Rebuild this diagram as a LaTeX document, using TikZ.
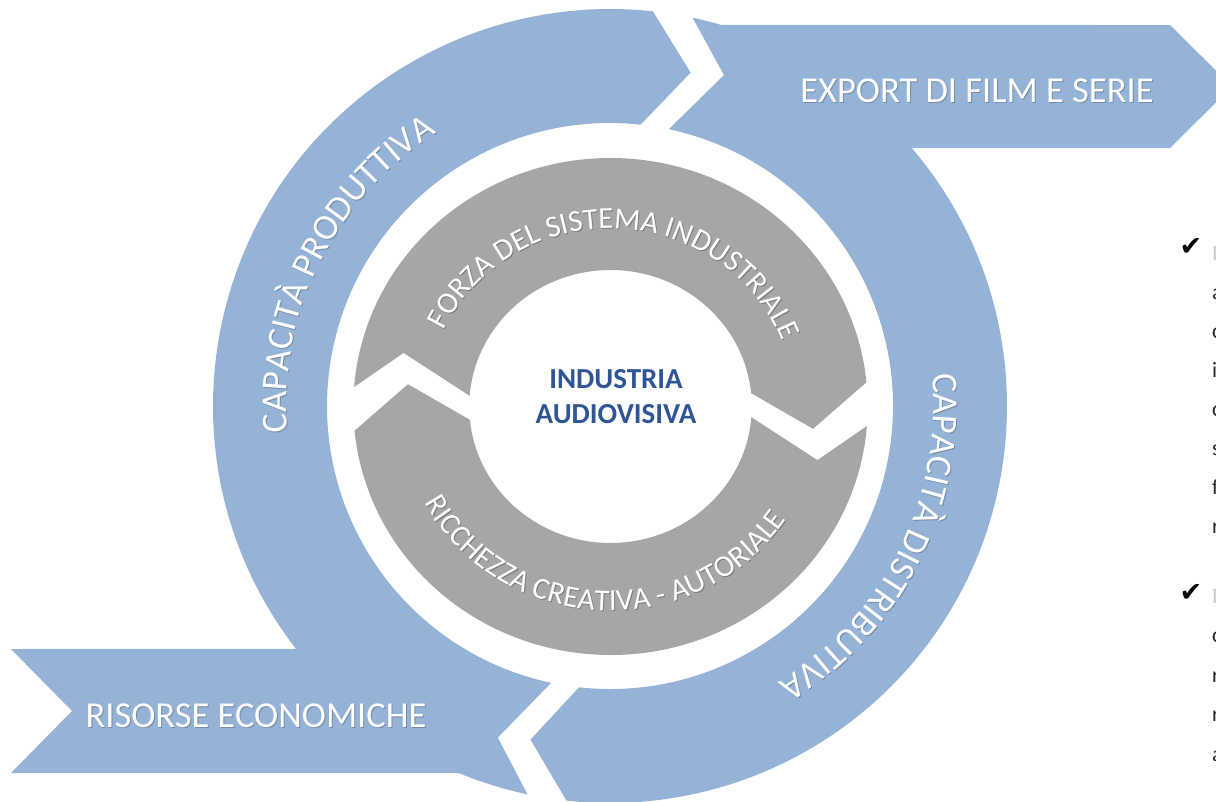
\documentclass[tikz,border=0pt]{standalone}
\usepackage{fontspec}
\setmainfont{Carlito}
\newfontfamily\symfont{DejaVu Sans}
\usetikzlibrary{decorations.text}
\definecolor{bluebg}{RGB}{149,179,215}
\definecolor{graybg}{RGB}{166,166,166}
\definecolor{navy}{RGB}{47,85,151}
\definecolor{bodytext}{RGB}{40,40,40}
\definecolor{lighttext}{RGB}{200,200,200}
\newcommand{\curvetext}[6]{%
  \path[decorate, decoration={text along path, text align=center,
    text={|\fontsize{#2}{#2}\selectfont\color{#1}|#6}}]
    (#3:#5) arc[start angle=#3, end angle=#4, radius=#5];}
\tikzset{
  bluepart/.style={fill=bluebg},
  graypart/.style={fill=graybg},
  bandtext/.style={font=\fontsize{36.5}{40}\selectfont, text=white, inner sep=0pt},
  bandshadow/.style={font=\fontsize{36.5}{40}\selectfont, text=bluebg!78!black, inner sep=0pt},
  coretext/.style={font=\bfseries\fontsize{29}{35}\selectfont, text=navy, align=center, inner sep=0pt},
  checkmark/.style={font=\symfont\fontsize{27}{27}\selectfont, inner sep=0pt},
  cutletter/.style={font=\fontsize{22}{22}\selectfont, text=bodytext, inner sep=0pt, anchor=base west}
}
\begin{document}
\begin{tikzpicture}[x=1pt,y=1pt]
\useasboundingbox (0,0) rectangle (1216,-801);
\fill[white] (0,0) rectangle (1216,-801);
\coordinate (C) at (610,-406);

% blue arrow A (left side, with RISORSE band)
\fill[bluepart] (11,-649) -- ([shift={(217.7:397)}]C)
  arc[start angle=217.7, end angle=83.8, radius=397]
  -- ([shift={(76.4:343)}]C) -- ([shift={(83.8:283)}]C)
  arc[start angle=83.8, end angle=258, radius=283]
  -- ([shift={(251.3:350)}]C) -- ([shift={(258:397)}]C)
  arc[start angle=258, end angle=247.6, radius=397]
  -- (11,-773) -- (72,-711) -- cycle;

% blue arrow B (right side, with EXPORT band)
\fill[bluepart] ([shift={(78:397)}]C)
  arc[start angle=78, end angle=73.7, radius=397]
  -- (1170,-25) -- (1232,-86.5) -- (1170,-148) -- ([shift={(40.5:397)}]C)
  arc[start angle=40.5, end angle=-96.3, radius=397]
  -- ([shift={(-103.4:343)}]C) -- ([shift={(-96.3:283)}]C)
  arc[start angle=-96.3, end angle=78, radius=283]
  -- ([shift={(71:350)}]C) -- cycle;

% blue curved texts
\begin{scope}[shift={(611,-407)}]
  \curvetext{bluebg!78!black}{36.5}{223.5}{83.5}{323.5}{CAPACITÀ PRODUTTIVA}
  \curvetext{bluebg!78!black}{36.5}{43.4}{-96.6}{323.5}{CAPACITÀ DISTRIBUTIVA}
\end{scope}
\begin{scope}[shift={(610,-406)}]
  \curvetext{white}{36.5}{223.5}{83.5}{323.5}{CAPACITÀ PRODUTTIVA}
  \curvetext{white}{36.5}{43.4}{-96.6}{323.5}{CAPACITÀ DISTRIBUTIVA}
\end{scope}

% gray ring
\begin{scope}[shift={(610.5,-406.5)}, xscale=1.035]
  \fill[graypart] (175.5:248.5) arc[start angle=175.5, end angle=5.6, radius=248.5]
    -- (-6.5:197) -- (5.6:136.5) arc[start angle=5.6, end angle=175.5, radius=136.5]
    -- (165:207) -- cycle;
  \fill[graypart] (-4.5:248.5) arc[start angle=-4.5, end angle=-174.4, radius=248.5]
    -- (-186.5:197) -- (-174.4:136.5) arc[start angle=-174.4, end angle=-4.5, radius=136.5]
    -- (-15:207) -- cycle;
\end{scope}
\begin{scope}[shift={(611.5,-407.5)}, xscale=1.035]
  \curvetext{graybg!75!black}{30.5}{178}{-2}{178}{FORZA DEL SISTEMA INDUSTRIALE}
  \curvetext{graybg!75!black}{30.5}{177.3}{357.3}{204}{RICCHEZZA CREATIVA - AUTORIALE}
\end{scope}
\begin{scope}[shift={(610.5,-406.5)}, xscale=1.035]
  \curvetext{white}{30.5}{178}{-2}{178}{FORZA DEL SISTEMA INDUSTRIALE}
  \curvetext{white}{30.5}{177.3}{357.3}{204}{RICCHEZZA CREATIVA - AUTORIALE}
\end{scope}

% band texts
\node[bandshadow] (exportsh) at (978,-91.5) {EXPORT DI FILM E SERIE};
\node[bandtext] (export) at (977,-90.5) {EXPORT DI FILM E SERIE};
\node[bandshadow] (risorsesh) at (257,-717) {RISORSE ECONOMICHE};
\node[bandtext] (risorse) at (256,-716) {RISORSE ECONOMICHE};

% centre
\node[coretext] (core) at (616,-397) {INDUSTRIA\\AUDIOVISIVA};

% cut-off list at right edge
\node[checkmark] (chk1) at (1191,-247) {✔};
\node[checkmark] (chk2) at (1191,-593) {✔};
\node[cutletter, text=lighttext] (l1) at (1212,-260) {I};
\node[cutletter] (l2) at (1212,-299) {a};
\node[cutletter] (l3) at (1212,-338) {c};
\node[cutletter] (l4) at (1212,-377) {i};
\node[cutletter] (l5) at (1212,-416) {c};
\node[cutletter] (l6) at (1212,-455) {s};
\node[cutletter] (l7) at (1212,-494) {f};
\node[cutletter] (l8) at (1212,-533) {r};
\node[cutletter, text=lighttext] (m1) at (1212,-603) {I};
\node[cutletter] (m2) at (1212,-642.5) {c};
\node[cutletter] (m3) at (1212,-682) {r};
\node[cutletter] (m4) at (1212,-721.5) {r};
\node[cutletter] (m5) at (1212,-761) {a};
\end{tikzpicture}
\end{document}
